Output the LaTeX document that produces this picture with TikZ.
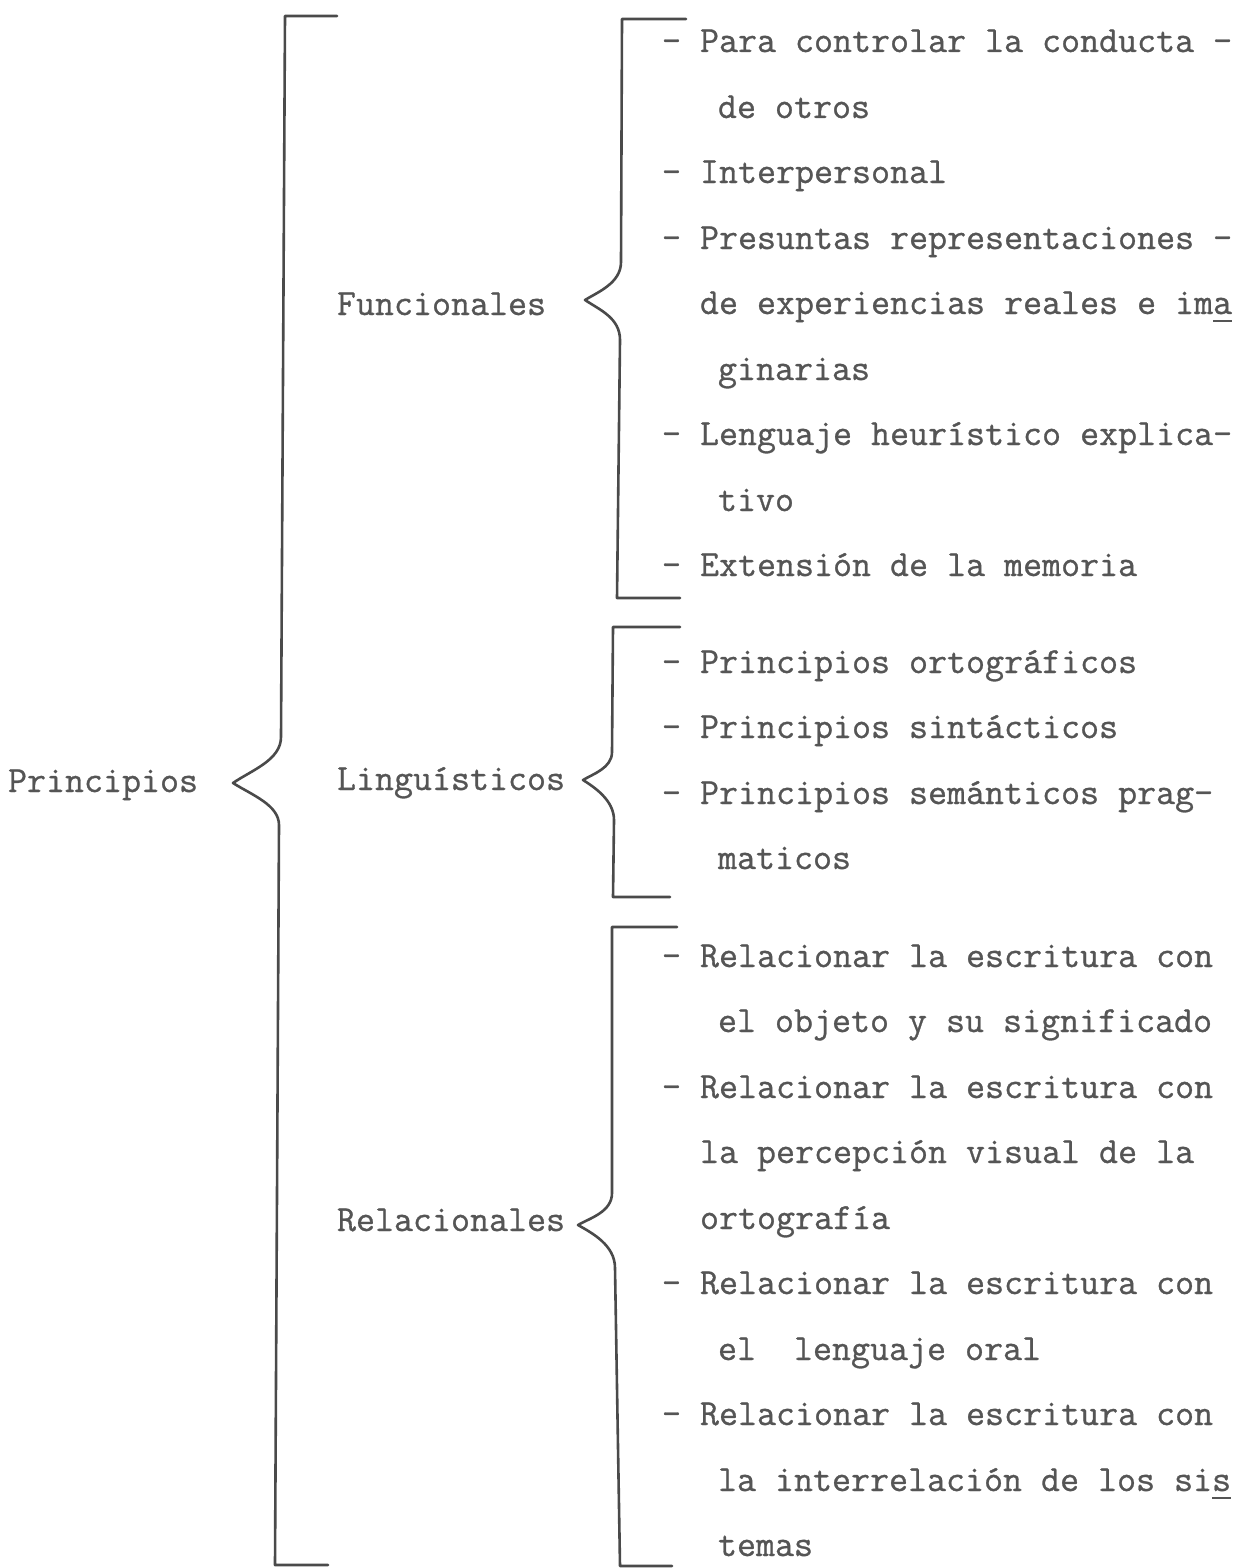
\documentclass[tikz,border=0pt]{standalone}
\usepackage{fontspec}
\setmonofont[AutoFakeBold=0.8]{Latin Modern Mono}
\definecolor{ink}{HTML}{555555}
\definecolor{lineink}{HTML}{4A4A4A}
\newcommand\typeul[1]{\makebox[0pt][l]{\rule[-8pt]{0.5em}{1.6pt}}#1}
\begin{document}
\begin{tikzpicture}[x=1pt,y=-1pt,
  txt/.style={anchor=base west, inner sep=0pt, outer sep=0pt, text=ink,
    font=\fontsize{36.9}{40}\selectfont\ttfamily\bfseries},
  brk/.style={draw=lineink, line width=2.6pt, line join=round, line cap=round}]
\useasboundingbox (0,0) rectangle (1245,1568);

% main labels
\node[txt] (princ) at (8,792) {Principios};
\node[txt] (func) at (337,315) {Funcionales};
\node[txt] (ling) at (337,790) {Linguísticos};
\node[txt] (rel) at (337,1231) {Relacionales};

% big bracket
\path[brk] (337,16) -- (285,16) -- (281,737)
  .. controls (281,760) and (252,770) .. (233,783)
  .. controls (252,795) and (279,805) .. (279,825)
  -- (275,1565) -- (328,1565);

% Funcionales bracket
\path[brk] (686,19) -- (622,19) -- (621,262)
  .. controls (621,283) and (598,292) .. (585,300)
  .. controls (600,310) and (620,318) .. (620,340)
  -- (617,598) -- (680,598);

% Linguisticos bracket
\path[brk] (680,627) -- (613,627) -- (612,752)
  .. controls (612,768) and (593,774) .. (583,780)
  .. controls (594,787) and (614,800) .. (614,820)
  -- (613,897) -- (670,897);

% Relacionales bracket
\path[brk] (677,927) -- (612,927) -- (612,1193)
  .. controls (612,1212) and (590,1218) .. (578,1225)
  .. controls (592,1233) and (615,1245) .. (615,1268)
  -- (620,1566) -- (672,1566);

% Funcionales items
\node[txt] (f1) at (662,52) {- Para controlar la conducta -};
\node[txt] (f1b) at (718,118) {de otros};
\node[txt] (f2) at (662,183) {- Interpersonal};
\node[txt] (f3) at (662,249) {- Presuntas representaciones -};
\node[txt] (f3b) at (700,314) {de experiencias reales e im\typeul{a}};
\node[txt] (f3c) at (718,380) {ginarias};
\node[txt] (f4) at (662,445) {- Lenguaje heurístico explica-};
\node[txt] (f4b) at (718,511) {tivo};
\node[txt] (f5) at (662,576) {- Extensión de la memoria};

% Linguisticos items
\node[txt] (l1) at (662,673) {- Principios ortográficos};
\node[txt] (l2) at (662,738) {- Principios sintácticos};
\node[txt] (l3) at (662,804) {- Principios semánticos prag-};
\node[txt] (l3b) at (718,869) {maticos};

% Relacionales items
\node[txt] (r1) at (662,967) {- Relacionar la escritura con};
\node[txt] (r1b) at (718,1032) {el objeto y su significado};
\node[txt] (r2) at (662,1098) {- Relacionar la escritura con};
\node[txt] (r2b) at (700,1163) {la percepción visual de la};
\node[txt] (r2c) at (700,1229) {ortografía};
\node[txt] (r3) at (662,1294) {- Relacionar la escritura con};
\node[txt] (r3b) at (718,1360) {el\ \ lenguaje oral};
\node[txt] (r4) at (662,1425) {- Relacionar la escritura con};
\node[txt] (r4b) at (718,1491) {la interrelación de los si\typeul{s}};
\node[txt] (r4c) at (718,1556) {temas};
\end{tikzpicture}
\end{document}
